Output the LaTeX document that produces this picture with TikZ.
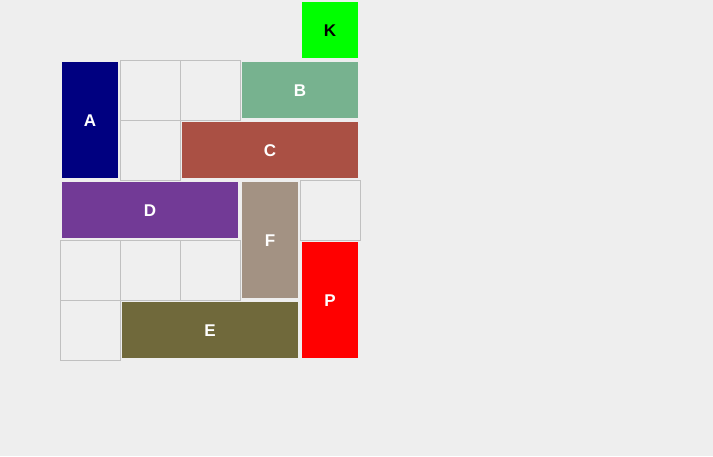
\documentclass[tikz,border=0pt]{standalone}
\usepackage{fontspec}
\setmainfont{Liberation Sans}
\definecolor{bg}{HTML}{EEEEEE}
\definecolor{cellfill}{HTML}{EFEFEF}
\definecolor{cellline}{HTML}{C0C0C0}
\definecolor{cA}{HTML}{000080}
\definecolor{cB}{HTML}{77B28F}
\definecolor{cC}{HTML}{AA5044}
\definecolor{cD}{HTML}{723A96}
\definecolor{cE}{HTML}{70693B}
\definecolor{cF}{HTML}{A39283}
\definecolor{cP}{HTML}{FF0000}
\definecolor{cK}{HTML}{00FF00}
\tikzset{
  cell/.style={draw=cellline, fill=cellfill, line width=1pt},
  blk/.style={inner sep=0pt, font=\fontsize{17}{19}\selectfont\bfseries, text=white},
}
\newcommand{\cellat}[2]{\draw[cell] (#1+0.5,#2+0.5) rectangle (#1+60.5,#2+60.5);}
\newcommand{\blockat}[7]{% name, x, y, w, h, color, label
  \fill[#6] (#2+2,#3+2) rectangle (#2+#4-2,#3+#5-2);
  \node[blk] (#1) at (#2+#4/2,#3+#5/2+0.5) {#7};}
\begin{document}
\begin{tikzpicture}[x=1pt,y=-1pt]
\fill[bg] (0,0) rectangle (713,456);
\useasboundingbox (0,0) rectangle (713,456);
\cellat{120}{60}
\cellat{180}{60}
\cellat{120}{120}
\cellat{300}{180}
\cellat{60}{240}
\cellat{120}{240}
\cellat{180}{240}
\cellat{60}{300}
\blockat{K}{300}{0}{60}{60}{cK}{\textcolor{black}{K}}
\blockat{A}{60}{60}{60}{120}{cA}{A}
\blockat{B}{240}{60}{120}{60}{cB}{B}
\blockat{C}{180}{120}{180}{60}{cC}{C}
\blockat{D}{60}{180}{180}{60}{cD}{D}
\blockat{F}{240}{180}{60}{120}{cF}{F}
\blockat{P}{300}{240}{60}{120}{cP}{P}
\blockat{E}{120}{300}{180}{60}{cE}{E}
\end{tikzpicture}
\end{document}
